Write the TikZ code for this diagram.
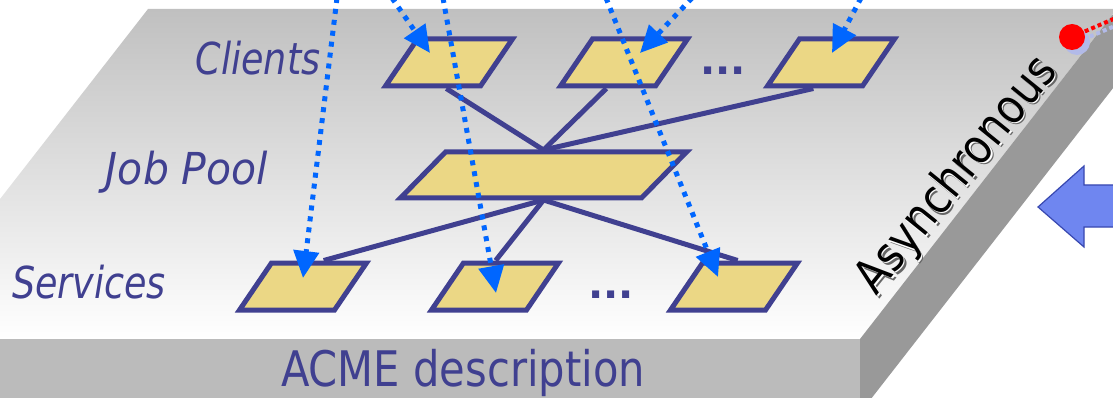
\documentclass[tikz,border=0pt]{standalone}
\usepackage{fontspec}
\setmainfont{DejaVu Sans}
\usepackage{graphicx}
\usetikzlibrary{arrows.meta,calc}
\definecolor{tblue}{RGB}{64,64,144}
\definecolor{boxfill}{RGB}{235,215,133}
\definecolor{dotblue}{RGB}{0,102,255}
\definecolor{arrfill}{RGB}{111,134,240}
\definecolor{arrdraw}{RGB}{56,72,176}
\definecolor{shadowblue}{RGB}{178,186,232}
\definecolor{topgray}{RGB}{192,192,192}
\definecolor{frontgray}{RGB}{187,187,187}
\definecolor{sidegray}{RGB}{153,153,153}
\newcommand\asytext{\scalebox{0.86}[1]{Asynchronous}}
\begin{document}
\begin{tikzpicture}[x=1pt,y=-1pt,
  boxbase/.style={rectangle, draw=tblue, fill=boxfill, line width=5pt, inner sep=0pt, minimum height=47pt},
  cbox/.style={boxbase, xslant=0.68, minimum width=95pt},
  pbox/.style={boxbase, xslant=0.98, minimum width=241pt, minimum height=46pt},
  link/.style={draw=tblue, line width=5pt},
  flow/.style={draw=dotblue, line width=5pt, dash pattern=on 5pt off 6pt, -{Triangle[length=27pt,width=25pt]}},
  lab/.style={text=tblue, font=\fontsize{44}{50}\selectfont\itshape, inner sep=0pt, anchor=base},
  dots/.style={text=tblue, font=\fontsize{40}{44}\selectfont\bfseries, inner sep=0pt, anchor=base},
  asy/.style={font=\fontsize{48}{52}\selectfont, inner sep=0pt, anchor=base, rotate=51}
]
\useasboundingbox (0,0) rectangle (1113,398);
\clip (0,0) rectangle (1113,398);
% slab
\shade[top color=topgray, bottom color=white] (148,9) -- (1117,9) -- (860,339) -- (-109,339) -- cycle;
\fill[frontgray] (-109,339) -- (860,339) -- (860,413) -- (-109,413) -- cycle;
\fill[sidegray] (860,339) -- (1117,9) -- (1117,83) -- (860,413) -- cycle;
\node[text=tblue, font=\fontsize{49}{54}\selectfont, inner sep=0pt, anchor=base] (acme) at (463,386) {\scalebox{0.85}[1]{ACME description}};
% labels
\node[lab] (lc) at (258,75) {\scalebox{0.83}[1]{Clients}};
\node[lab] (lj) at (187,185) {\scalebox{0.93}[1]{Job Pool}};
\node[lab] (ls) at (89,298) {\scalebox{0.83}[1]{Services}};
% boxes
\node[cbox] (c1) at (449,62.5) {};
\node[cbox] (c2) at (624,62.5) {};
\node[cbox] (c3) at (831,62.5) {};
\node[pbox] (jp) at (543.5,175) {};
\node[cbox] (s1) at (303,286.5) {};
\node[cbox] (s2) at (495,286.5) {};
\node[cbox] (s3) at (734,286.5) {};
\node[dots] (e1) at (723,75) {...};
\node[dots] (e2) at (611,298) {...};
% links
\coordinate (jpt) at ($(jp.center)+(0,-25)$);
\coordinate (jpb) at ($(jp.center)+(0,25)$);
\draw[link] ($(c1.south west)!0.65!(c1.south east)$) -- (jpt);
\draw[link] (c2.south) -- (jpt);
\draw[link] (c3.south) -- (jpt);
\draw[link] (jpb) -- ($(s1.north west)!0.53!(s1.north east)$);
\draw[link] (jpb) -- ($(s2.north west)!0.33!(s2.north east)$);
\draw[link] (jpb) -- ($(s3.north west)!0.36!(s3.north east)$);
% flows
\coordinate (u1) at (337,-2);
\coordinate (u2) at (392,-2);
\coordinate (u3) at (443,-2);
\coordinate (u4) at (606,-2);
\coordinate (u5) at (692,-2);
\coordinate (u6) at (861,-2);
\coordinate (t1) at (303,278);
\coordinate (t2) at (430,53);
\coordinate (t3) at (496,293);
\coordinate (t4) at (718,277);
\coordinate (t5) at (640,53);
\coordinate (t6) at (832,53);
\draw[flow] (u1) -- (t1);
\draw[flow] (u2) -- (t2);
\draw[flow] (u3) -- (t3);
\draw[flow] (u4) -- (t4);
\draw[flow] (u5) -- (t5);
\draw[flow] (u6) -- (t6);
% asynchronous text (embossed: shadow, light edge, glyphs)
\node[asy, text=black!60] (asyS) at (970.5,186.5) {\asytext};
\node[asy, text=white] (asyW) at (969.2,185.2) {\asytext};
\node[asy, text=black] (asy) at (968,184) {\asytext};
% red dot
\coordinate (rd) at (1072,37);
\coordinate (rdS) at (1077,42);
\coordinate (re) at (1118,17);
\coordinate (reS) at (1122,23);
\draw[shadowblue, line width=4pt, dash pattern=on 4pt off 3pt] (rdS) -- (reS);
\fill[shadowblue] (rdS) circle (13);
\draw[red, line width=4pt, dash pattern=on 4pt off 3pt] (rd) -- (re);
\fill[red] (rd) circle (13);
% big arrow
\draw[arrdraw, fill=arrfill, line width=1.2pt] (1038,207) -- (1084,166) -- (1084,185) -- (1120,185) -- (1120,227) -- (1084,227) -- (1084,247) -- cycle;
\end{tikzpicture}
\end{document}
